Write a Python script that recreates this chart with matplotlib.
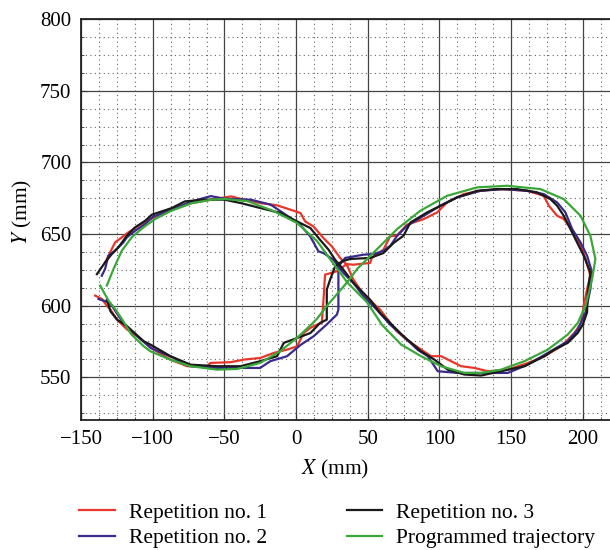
# -*- coding: utf-8 -*-
"""
Figure-eight path: three measured repetitions against the programmed trajectory.
"""

import matplotlib
matplotlib.use('Agg')
import matplotlib.pyplot as plt
from matplotlib.ticker import MultipleLocator

# measured repetitions, (x, y) in mm
rep1 = [(-133.3, 630), (-129.8, 637.2), (-126.3, 644.2), (-121.6, 647.7), (-117, 651.2),
        (-110, 655.8), (-100.7, 661), (-86.9, 667), (-73, 671.6), (-59.2, 674),
        (-45.4, 676.3), (-36.2, 674), (-24.7, 671.6), (-13.1, 670), (-3.9, 667),
        (3, 664.7), (6.3, 658.8), (12.1, 655.3), (19.1, 647.2), (24.9, 641.4),
        (30.7, 633.3), (35.3, 628.6), (40, 618.1), (47, 608), (58.6, 597.2),
        (70.2, 582.1), (77.2, 576.3), (87.2, 569.3), (94.2, 564.7), (101.2, 564.7),
        (108.1, 561.2), (115.1, 557.7), (124.4, 556.5), (133.7, 554.2), (147.7, 555.3),
        (161.6, 559.9), (173.3, 564.7), (184.9, 571.6), (194.2, 580.9), (198.8, 587.9),
        (200.7, 600), (203, 611.6), (205.3, 620.9), (201.9, 632.6), (198.4, 641.9),
        (193.7, 651.2), (186.7, 660.5), (182.1, 662.8), (176.3, 669.8), (172.8, 676.7),
        (161.2, 680.2), (142.6, 681.4), (128.6, 680.2), (117, 677.9), (105.3, 672.1),
        (98.4, 665.1), (89.1, 660.5), (77.2, 656.5), (70.5, 649), (65.6, 648.4),
        (60.9, 639), (52.8, 633.3), (51.6, 629.8), (40, 628.6), (35.3, 629),
        (28.4, 624), (20.2, 621.6), (19.1, 604), (17.9, 587.9), (14.4, 586.7),
        (9.8, 584.4), (5.3, 580.9), (0.7, 571.6), (-6.3, 569.3), (-15.6, 567),
        (-24.9, 563.5), (-36.5, 562.3), (-45.8, 560.5), (-59.8, 560), (-62.1, 557.7),
        (-76, 557.7), (-87.7, 562.3), (-99.3, 569.3), (-110.9, 578.6), (-117.9, 583.3),
        (-124.9, 590.2), (-129.5, 597.2), (-132.1, 600), (-135.6, 604.7), (-140.2, 607)]

rep2 = [(-135.6, 620.9), (-133.3, 625.6), (-131, 634.9), (-126.3, 638.4), (-120.5, 644.2),
        (-118.1, 647.7), (-112.3, 652.3), (-105.3, 657), (-100, 662), (-86, 667.5),
        (-73, 672.8), (-59.5, 676.5), (-50, 674.7), (-31.6, 674), (-17.7, 670.5),
        (-5, 662), (2.8, 656.5), (9.8, 648.4), (15.6, 637.9), (19.1, 636.7),
        (26, 632.1), (33, 622.8), (40, 615.8), (47, 606.5), (56.3, 597.2),
        (65.6, 586.7), (74.9, 578.6), (85, 569), (91.9, 564.7), (98.8, 554.2),
        (112.8, 553), (147.7, 553), (161.6, 558.8), (175.6, 567), (189.5, 575.1),
        (196.5, 583.3), (201.9, 595.3), (205.3, 611.6), (206.5, 623.3), (203, 634.9),
        (198.4, 644.2), (192.6, 653.5), (187.9, 665.1), (182.1, 672.1), (172.8, 677.9),
        (161.2, 680.2), (144.9, 681.4), (128.6, 680.2), (112.3, 675.6), (100.7, 669.8),
        (89.1, 662.8), (77.4, 655.8), (70.5, 648.8), (65.8, 641.9), (61.2, 638.4),
        (54.2, 636), (47, 635.6), (34.2, 633.3), (29.5, 627.4), (29.5, 597.2),
        (28.4, 593.7), (21.5, 587), (12.2, 578.6), (3, 572.5), (-6.3, 564.7),
        (-18, 561.2), (-25.1, 556.5), (-38.8, 556.5), (-55.1, 556.5), (-73.7, 557.7),
        (-80, 560), (-85.3, 563.5), (-101.6, 570.5), (-110, 578), (-120, 587),
        (-128.6, 600), (-130.9, 602.3), (-137.9, 604.7)]

rep3 = [(-139, 622), (-133.3, 630.2), (-128.6, 636), (-124, 640.7), (-118.1, 648.8),
        (-112.3, 654.7), (-105.3, 659.3), (-100.7, 663.5), (-86.9, 668.1), (-77.6, 672.8),
        (-63.8, 674), (-50, 674), (-38.5, 671.6), (-24.7, 668.1), (-10.9, 664.7),
        (0.7, 658.8), (9.9, 654.2), (16.7, 646), (22.6, 639.1), (27.2, 632.1),
        (33, 625.1), (40, 615.8), (47, 608.8), (51.6, 604.2), (58.6, 594.9),
        (65.6, 587.9), (74.9, 578.6), (87.2, 568.1), (96.5, 562.3), (105.8, 555.3),
        (117.4, 551.9), (129.1, 551.2), (143, 554.2), (159.3, 557.7), (173.3, 564.7),
        (180.2, 569.3), (189.5, 574), (196.5, 581), (200, 586.7), (203, 595.3),
        (203.5, 609.3), (205.3, 623.3), (200.7, 634.9), (196, 644.2), (191.4, 653.5),
        (186.7, 662.8), (182.1, 669.8), (177.4, 674.4), (168.1, 679.1), (154.2, 681.4),
        (140.2, 681.4), (126.3, 680.2), (112.3, 675.6), (103, 670.9), (91.4, 665.1),
        (79.8, 658.1), (74.9, 648.8), (67.9, 643.7), (60.9, 636.7), (51.6, 633.3),
        (37.7, 632.6), (31.9, 630.9), (27.2, 627.4), (23.7, 618.1), (21.4, 611.2),
        (21.4, 590.2), (16.7, 587.9), (10, 580.9), (0.7, 577.4), (-8.6, 574),
        (-13.3, 564.7), (-25.1, 561.2), (-38.8, 557.7), (-55.1, 557.7), (-73.7, 558.8),
        (-87.7, 564.7), (-101.6, 572.8), (-106.3, 575.1), (-117.9, 585.6), (-124.9, 590.2),
        (-129.5, 596), (-132, 604)]

# programmed path
prog = [(-132.1, 614), (-127.4, 625.6), (-121.6, 638.4), (-114.7, 647.7), (-106.5, 654.7),
        (-98.4, 660.5), (-87.7, 666), (-73, 671.5), (-59, 674), (-50, 674.5),
        (-34, 673), (-15.6, 666), (0.7, 657.7), (14.7, 645), (24, 632),
        (30.9, 622.8), (35.6, 616.3), (49.5, 602.3), (60, 586.5), (73.3, 572.8),
        (87.2, 564.7), (101.2, 557.7), (117.4, 553), (129.1, 553), (143, 555.3),
        (159.3, 561.2), (175.6, 569.3), (189.5, 579.8), (196.5, 587.9), (202, 600),
        (206.5, 618.6), (208.8, 632.6), (205.3, 648.8), (198.4, 662.8), (186.7, 674.4),
        (170.5, 681.4), (147.2, 683.7), (126.3, 682.6), (105.3, 676.7), (86.7, 666.3),
        (70.5, 653.5), (56.5, 639.5), (42.6, 625.6), (35.6, 616.3), (21.6, 600),
        (14.7, 591), (9.8, 586), (0.5, 577.4), (-11.2, 568.1), (-25.1, 560),
        (-41.2, 555.8), (-55.1, 555.3), (-73.7, 557.7), (-87.7, 562.3), (-101.6, 568.1),
        (-106.3, 571.6), (-115, 580), (-121.6, 590.7), (-126.3, 597.7), (-130.9, 603.5),
        (-136.7, 614)]

labels = ['Repetition no. 1', 'Repetition no. 2', 'Repetition no. 3', 'Programmed trajectory']
colors = ['#e8362a', '#3b2a8e', '#1a1a1a', '#3aa839']

plt.rcParams['font.family'] = ['Liberation Serif', 'DejaVu Serif']
plt.rcParams['mathtext.fontset'] = 'stix'
plt.rcParams['font.size'] = 15.5

fig = plt.figure(figsize=(6.1, 5.5), dpi=100)
ax = fig.add_axes([0.133, 0.236, 0.867, 0.729])

for pts, lab, c in zip([rep1, rep2, rep3, prog], labels, colors):
    xs = [p[0] for p in pts]
    ys = [p[1] for p in pts]
    ax.plot(xs, ys, color=c, lw=1.6, label=lab)

ax.set_xlim(-150, 219)
ax.set_ylim(520, 800)
ax.xaxis.set_major_locator(MultipleLocator(50))
ax.yaxis.set_major_locator(MultipleLocator(50))
ax.xaxis.set_minor_locator(MultipleLocator(12.5))
ax.yaxis.set_minor_locator(MultipleLocator(12.5))
ax.grid(which='major', color='#444444', lw=0.9, ls='-')
ax.grid(which='minor', color='#666666', lw=0.8, ls=(0, (1, 3)))
ax.set_axisbelow(True)
ax.tick_params(which='both', direction='in', color='#333333', labelsize=15)
ax.tick_params(which='major', length=4, pad=7)
ax.tick_params(which='minor', length=2)
for s in ['left', 'bottom', 'top']:
    ax.spines[s].set_color('#222222')
    ax.spines[s].set_linewidth(1.3)
ax.spines['right'].set_visible(False)

ax.set_xlabel(r'$X$ (mm)')
ax.xaxis.set_label_coords(0.48, -0.095)
ax.set_ylabel(r'$Y$ (mm)')
ax.yaxis.set_label_coords(-0.09, 0.52)

fig.legend(loc='upper left', bbox_to_anchor=(0.13, 0.086), ncol=2, frameon=False,
           handlelength=1.65, columnspacing=3.7, labelspacing=0.25, handletextpad=0.65,
           borderaxespad=0, borderpad=0)

plt.savefig('out.png', dpi=100)
